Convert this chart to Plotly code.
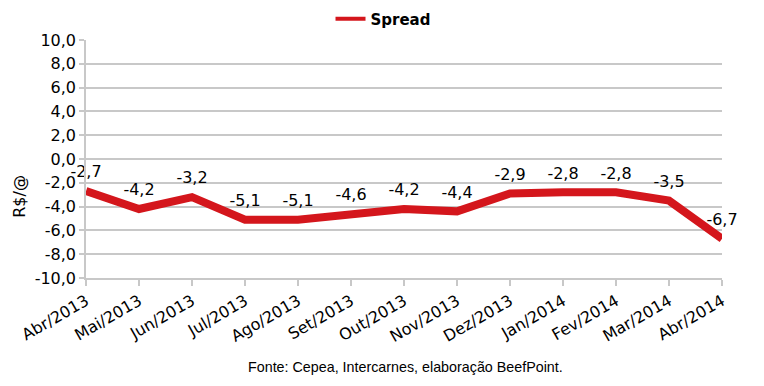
import plotly.graph_objects as go

months = ["Abr/2013", "Mai/2013", "Jun/2013", "Jul/2013", "Ago/2013", "Set/2013",
          "Out/2013", "Nov/2013", "Dez/2013", "Jan/2014", "Fev/2014", "Mar/2014", "Abr/2014"]
spread = [-2.7, -4.2, -3.2, -5.1, -5.1, -4.6, -4.2, -4.4, -2.9, -2.8, -2.8, -3.5, -6.7]
y_ticks = [10, 8, 6, 4, 2, 0, -2, -4, -6, -8, -10]

def fmt(v):
    return f"{v:.1f}".replace(".", ",")

xs = list(range(len(months)))
red = "#D4161C"
grid = "#C8C8C8"
font = "DejaVu Sans"

fig = go.Figure()
fig.add_trace(go.Scatter(
    x=xs, y=spread, mode="lines+markers+text",
    line=dict(color=red, width=8),
    marker=dict(size=14, color="rgba(0,0,0,0)"),
    text=[fmt(v) for v in spread], textposition="top center",
    textfont=dict(family=font, size=16, color="#000000"),
    showlegend=False, cliponaxis=False, hoverinfo="skip",
))
fig.add_trace(go.Scatter(
    x=[None], y=[None], mode="lines", name="Spread",
    line=dict(color=red, width=4), showlegend=True,
))

fig.update_layout(
    width=764, height=386,
    margin=dict(l=86, r=42, t=40, b=108, autoexpand=False),
    paper_bgcolor="white", plot_bgcolor="white",
    font=dict(family=font, size=16, color="#000000"),
    legend=dict(orientation="h", x=0.467, xanchor="center", y=1.158, yanchor="top",
                font=dict(family=font, size=15, weight="bold")),
    annotations=[
        dict(text="Fonte: Cepea, Intercarnes, elaboração BeefPoint.",
             xref="paper", yref="paper", x=0.503, y=-0.374, xanchor="center", yanchor="middle",
             showarrow=False, font=dict(family="Liberation Sans", size=14.3, color="#000000")),
        dict(text="R$/@", textangle=-90, xref="paper", yref="paper", x=-0.104, y=0.345,
             xanchor="center", yanchor="middle",
             showarrow=False, font=dict(family=font, size=16, color="#000000")),
    ],
)
fig.update_xaxes(
    range=[0, len(months) - 1], tickvals=xs, ticktext=months, tickangle=-30,
    showgrid=False, zeroline=False, showline=True, linecolor=grid, linewidth=1.5,
    ticks="outside", ticklen=6, tickcolor=grid, tickwidth=1.5, automargin=False,
    tickfont=dict(family=font, size=16),
)
fig.update_yaxes(
    range=[-10, 10], tickvals=y_ticks, ticktext=[fmt(v) for v in y_ticks],
    showgrid=True, gridcolor=grid, gridwidth=1.5, zeroline=False,
    showline=True, linecolor=grid, linewidth=1.5, automargin=False,
    ticks="outside", ticklen=5, tickcolor=grid, tickwidth=1.5,
    tickfont=dict(family=font, size=16),
)

fig.write_html("out.html", config={"displayModeBar": False},
               post_script="document.body.style.margin='0';")
